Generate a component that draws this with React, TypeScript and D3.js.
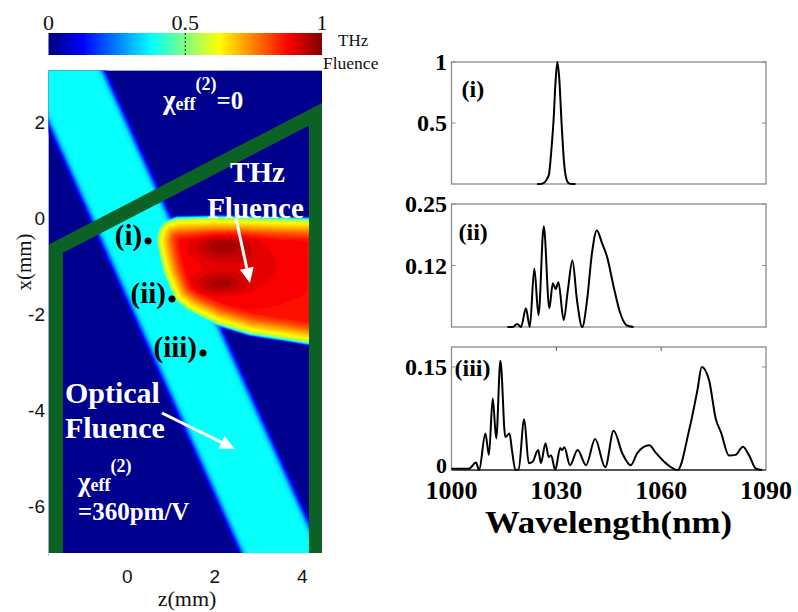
import React, { useMemo } from 'react';
import * as d3 from 'd3';

// ---------- map panel: axes ----------
const zDomain = [-1.8, 4.45];
const xDomain = [-6.97, 3.07];
const zTicks = [0, 2, 4];
const xTicks = [2, 0, -2, -4, -6];
const colorbarTicks = [0, 0.5, 1];
const colorbarTickLabels = ['0', '0.5', '1'];

// optical pump beam: z of its two edges at the two x extremes (mm)
const opticalEdgeX = [3.07, -6.97];
const opticalEdgeLeftZ = [-2.377, 2.573];
const opticalEdgeRightZ = [-0.51, 4.479];
const opticalLevel = 0.38;

// THz fluence region outline (mm)
const thzOutlineZ = [0.701, 0.747, 0.862, 1.136, 2.05, 4.106, 4.6, 4.6, 4.106, 3.558, 2.804, 2.05, 1.433, 1.136, 1.021, 0.862, 0.747];
const thzOutlineX = [-0.458, -0.25, -0.104, -0.021, 0, -0.042, -0.042, -2.601, -2.58, -2.497, -2.393, -2.185, -1.914, -1.706, -1.498, -1.144, -0.728];
// THz fluence versus depth inside the outline (px)
const thzRimDepth = [-4, 0, 4, 9, 14, 21];
const thzRimLevel = [0, 0.55, 0.64, 0.72, 0.8, 0.875];
// THz hot spots
const spotZ = [2.17, 2.12, 2.65];
const spotX = [-0.58, -1.37, -1.0];
const spotRz = [0.6, 0.55, 1.3];
const spotRx = [0.26, 0.2, 0.65];
const spotGain = [0.085, 0.075, 0.035];

// crystal boundary (mm)
const crystalZ = [-1.63, -1.63, 4.312, 4.312];
const crystalX = [-7.6, -0.637, 2.166, -7.6];

// observation points
const probeLabels = ['(i)', '(ii)', '(iii)'];
const probeZ = [0.476, 1.021, 1.73];
const probeX = [-0.479, -1.685, -2.809];

// ---------- spectra ----------
const wavelengthTicks = [1000, 1030, 1060, 1090];
const specIWl = [1024.5, 1025.5, 1026.5, 1027.3, 1027.9, 1028.5, 1029.2, 1029.8, 1030.3, 1030.8, 1031.5, 1032.2, 1032.8, 1033.5, 1034.5, 1035.5];
const specIVal = [0, 0, 0.01, 0.04, 0.08, 0.25, 0.52, 0.85, 1.0, 0.88, 0.5, 0.18, 0.05, 0.008, 0, 0];
const specIIWl = [1016, 1017.5, 1018.8, 1019.9, 1021.3, 1022.4, 1023.7, 1024.9, 1026.4, 1028.0, 1029.0, 1029.8, 1030.6, 1032.1, 1033.3, 1034.6, 1035.9, 1037.4, 1038.8, 1040.2, 1041.6, 1043.1, 1044.5, 1046.4, 1048.3, 1050.2, 1052.1];
const specIIVal = [0, 0, 0.006, 0, 0.038, 0, 0.119, 0.024, 0.205, 0.038, 0.089, 0.077, 0.091, 0.014, 0.075, 0.135, 0.055, 0, 0.055, 0.15, 0.196, 0.17, 0.143, 0.082, 0.028, 0.003, 0];
const specIIIWl = [1000, 1005, 1007.0, 1007.9, 1009.7, 1010.7, 1011.8, 1012.8, 1014.0, 1015.4, 1016.6, 1017.3, 1018.3, 1019.2, 1020.8, 1022.1, 1023.2, 1024.8, 1025.6, 1026.9, 1027.8, 1028.5, 1029.7, 1031.1, 1031.6, 1032.3, 1033.9, 1036.1, 1038.5, 1041.1, 1044.0, 1046.4, 1048.9, 1051.3, 1053.2, 1056.6, 1058.5, 1061.3, 1064.7, 1068.0, 1070.4, 1071.6, 1073.7, 1075.6, 1077.1, 1079.4, 1081.3, 1083.4, 1085.1, 1087.1, 1088.9];
const specIIIVal = [0.002, 0.002, 0.011, 0, 0.053, 0.022, 0.104, 0.046, 0.159, 0.048, 0.053, 0.029, 0, 0.001, 0.074, 0.01, 0.012, 0.029, 0.01, 0.039, 0.019, 0.021, 0, 0.032, 0.029, 0.033, 0.007, 0.029, 0.007, 0.045, 0.004, 0.057, 0.024, 0.007, 0.025, 0.036, 0.025, 0.01, 0, 0.058, 0.117, 0.15, 0.131, 0.075, 0.055, 0.021, 0.022, 0.034, 0.022, 0.002, 0];

const panelLabels = ['(i)', '(ii)', '(iii)'];
const panelYMax = [1, 0.25, 0.179];
const panelTicks = [[0.5, 1], [0.125, 0.25], [0, 0.15]];
const panelTickLabels = [['0.5', '1'], ['0.12', '0.25'], ['0', '0.15']];

// ---------- layout ----------
const W = 798;
const H = 612;
const mapL = 48.5, mapR = 322, mapT = 70.5, mapB = 553;
const cbT = 33, cbB = 55;
const specL = 451.5, specR = 766;
const panelTop = [62, 204, 347];
const panelBottom = [184, 327, 470];

const SERIF = '"Liberation Serif", "Times New Roman", serif';
const SANS = '"Liberation Sans", Arial, sans-serif';
const GREEN = '#0c6224';

function jet(v: number): string {
  const c = (t: number) => Math.round(255 * Math.max(0, Math.min(1, t)));
  return `rgb(${c(1.5 - Math.abs(4 * v - 3))},${c(1.5 - Math.abs(4 * v - 2))},${c(1.5 - Math.abs(4 * v - 1))})`;
}

function smoothstep(t: number): number {
  const u = Math.max(0, Math.min(1, t));
  return u * u * (3 - 2 * u);
}

function segDist(px: number, py: number, ax: number, ay: number, bx: number, by: number): number {
  const dx = bx - ax, dy = by - ay;
  const L2 = dx * dx + dy * dy;
  let t = L2 > 0 ? ((px - ax) * dx + (py - ay) * dy) / L2 : 0;
  t = Math.max(0, Math.min(1, t));
  const qx = ax + t * dx - px, qy = ay + t * dy - py;
  return Math.sqrt(qx * qx + qy * qy);
}

function Arrow({ x1, y1, x2, y2 }: { x1: number; y1: number; x2: number; y2: number }) {
  const ang = Math.atan2(y2 - y1, x2 - x1);
  const hl = 15, hw = 7;
  const bx = x2 - hl * Math.cos(ang), by = y2 - hl * Math.sin(ang);
  const nx = -Math.sin(ang), ny = Math.cos(ang);
  return (
    <g>
      <line x1={x1} y1={y1} x2={bx} y2={by} stroke="#fff" strokeWidth={3} />
      <polygon points={`${x2},${y2} ${bx + nx * hw},${by + ny * hw} ${bx - nx * hw},${by - ny * hw}`} fill="#fff" />
    </g>
  );
}

export default function App() {
  const zs = d3.scaleLinear().domain(zDomain).range([mapL, mapR]);
  const xs = d3.scaleLinear().domain(xDomain).range([mapB, mapT]);
  const cb = d3.scaleLinear().domain([0, 1]).range([mapL, mapR]);

  const fieldPaths = useMemo(() => {
    const cell = 1.5;
    const nx = Math.ceil((mapR - mapL) / cell);
    const ny = Math.ceil((mapB - mapT) / cell);
    const rim = d3.scaleLinear().domain(thzRimDepth).range(thzRimLevel).clamp(true);
    const poly: [number, number][] = thzOutlineZ.map((z, i) => [zs(z), xs(thzOutlineX[i])]);
    const values: number[] = new Array(nx * ny);
    for (let j = 0; j < ny; j++) {
      const py = mapT + (j + 0.5) * cell;
      const x = xs.invert(py);
      const t = (x - opticalEdgeX[0]) / (opticalEdgeX[1] - opticalEdgeX[0]);
      const Lz = opticalEdgeLeftZ[0] + t * (opticalEdgeLeftZ[1] - opticalEdgeLeftZ[0]);
      const Rz = opticalEdgeRightZ[0] + t * (opticalEdgeRightZ[1] - opticalEdgeRightZ[0]);
      for (let i = 0; i < nx; i++) {
        const px = mapL + (i + 0.5) * cell;
        const z = zs.invert(px);
        const d = Math.min(z - Lz, Rz - z);
        const O = opticalLevel * smoothstep((d + 0.12) / 0.3);
        let md = Infinity;
        for (let k = 0; k < poly.length; k++) {
          const a = poly[k], b = poly[(k + 1) % poly.length];
          md = Math.min(md, segDist(px, py, a[0], a[1], b[0], b[1]));
        }
        const inside = d3.polygonContains(poly, [px, py]);
        const sd = inside ? md : -md;
        let T = rim(sd);
        if (sd > 0) {
          let hot = 0;
          for (let s = 0; s < spotZ.length; s++) {
            const u = (z - spotZ[s]) / spotRz[s];
            const v = (x - spotX[s]) / spotRx[s];
            hot += spotGain[s] * Math.exp(-(u * u + v * v));
          }
          T += hot * Math.min(1, sd / 14);
        }
        values[j * nx + i] = Math.max(O, Math.min(1, T));
      }
    }
    const thresholds = d3.range(1, 51).map((k) => k / 50);
    const contours = d3.contours().size([nx, ny]).thresholds(thresholds)(values);
    const path = d3.geoPath(d3.geoIdentity().scale(cell).translate([mapL, mapT]) as any);
    return contours.map((c) => ({ d: path(c as any) || '', fill: jet(c.value) }));
  }, []);

  const crystalLine = d3
    .line<number>()
    .x((_, i) => zs(crystalZ[i]))
    .y((_, i) => xs(crystalX[i]))
    .curve(d3.curveLinear)(crystalZ);

  const wx = d3.scaleLinear().domain([1000, 1090]).range([specL, specR]);
  const spectra = [
    { wl: specIWl, val: specIVal },
    { wl: specIIWl, val: specIIVal },
    { wl: specIIIWl, val: specIIIVal },
  ];

  const cbStops = d3.range(0, 65).map((k) => k / 64);

  return (
    <svg width={W} height={H} style={{ position: 'absolute', left: 0, top: 0, background: '#fff' }}>
      <defs>
        <clipPath id="mapClip">
          <rect x={mapL} y={mapT} width={mapR - mapL} height={mapB - mapT} />
        </clipPath>
        <linearGradient id="jetGrad" x1="0" x2="1" y1="0" y2="0">
          {cbStops.map((v) => (
            <stop key={v} offset={v} stopColor={jet(v)} />
          ))}
        </linearGradient>
      </defs>
      <rect x={0} y={0} width={W} height={H} fill="#fff" />

      {/* colour bar */}
      <rect x={cb(0)} y={cbT} width={cb(1) - cb(0)} height={cbB - cbT} fill="url(#jetGrad)" />
      <line x1={cb(0.5)} x2={cb(0.5)} y1={cbT} y2={cbB} stroke="#222" strokeWidth={1} strokeDasharray="2 2" />
      {colorbarTicks.map((v, i) => (
        <text key={v} x={cb(v)} y={30} textAnchor="middle" fontFamily={SERIF} fontSize={22} fill="#111">
          {colorbarTickLabels[i]}
        </text>
      ))}
      <text x={338} y={46} fontFamily={SERIF} fontSize={17} fill="#111">THz</text>
      <text x={323} y={69} fontFamily={SERIF} fontSize={17.5} fill="#111">Fluence</text>

      {/* fluence map */}
      <g clipPath="url(#mapClip)">
        <rect x={mapL} y={mapT} width={mapR - mapL} height={mapB - mapT} fill="#00008f" />
        {fieldPaths.map((p, i) => (
          <path key={i} d={p.d} fill={p.fill} />
        ))}
        <path d={crystalLine || ''} fill="none" stroke={GREEN} strokeWidth={14} strokeLinejoin="miter" />
      </g>
      <line x1={mapL} x2={mapL} y1={mapT} y2={mapB + 3} stroke="#8a94b8" strokeWidth={1} strokeDasharray="1 1" />
      <line x1={mapL} x2={mapR} y1={mapT} y2={mapT} stroke="#8a94b8" strokeWidth={1} strokeDasharray="1 1" />

      {/* map axes */}
      {xTicks.map((v) => (
        <text key={v} x={45} y={xs(v)} dy="0.35em" textAnchor="end" fontFamily={SANS} fontSize={19} fill="#111">
          {v < 0 ? `-${Math.abs(v)}` : v}
        </text>
      ))}
      {zTicks.map((v) => (
        <text key={v} x={zs(v)} y={583} textAnchor="middle" fontFamily={SANS} fontSize={19} fill="#111">
          {v}
        </text>
      ))}
      <text x={0} y={0} transform="translate(31,262) rotate(-90)" textAnchor="middle" fontFamily={SERIF} fontSize={21} fill="#111">
        x(mm)
      </text>
      <text x={187} y={606} textAnchor="middle" fontFamily={SERIF} fontSize={22} fill="#111">
        z(mm)
      </text>

      {/* map annotations */}
      <g fontFamily={SERIF} fontWeight="bold" fill="#fff">
        <text x={zs(0.816)} y={xs(2.268)} fontSize={27}>
          χ
          <tspan fontSize={18} dy={1}>eff</tspan>
          <tspan fontSize={18} dy={-20}>(2)</tspan>
          <tspan fontSize={25} dy={19}>=0</tspan>
        </text>
        <text x={zs(2.975)} y={xs(0.749)} fontSize={29} textAnchor="middle">THz</text>
        <text x={zs(2.93)} y={xs(0)} fontSize={29} textAnchor="middle">Fluence</text>
        <text x={zs(-1.424)} y={xs(-3.849)} fontSize={30}>Optical</text>
        <text x={zs(-1.424)} y={xs(-4.578)} fontSize={30}>Fluence</text>
        <text x={zs(-1.127)} y={xs(-5.68)} fontSize={27}>
          χ
          <tspan fontSize={18} dy={0}>eff</tspan>
          <tspan fontSize={18} dy={-19}>(2)</tspan>
        </text>
        <text x={zs(-1.127)} y={xs(-6.29)} fontSize={25}>=360pm/V</text>
      </g>
      <Arrow x1={zs(2.484)} y1={xs(0)} x2={zs(2.804)} y2={xs(-1.352)} />
      <Arrow x1={zs(0.793)} y1={xs(-4.057)} x2={zs(2.461)} y2={xs(-4.806)} />
      {probeLabels.map((lab, i) => (
        <g key={lab}>
          <circle cx={zs(probeZ[i])} cy={xs(probeX[i])} r={3.5} fill="#000" />
          <text x={zs(probeZ[i]) - 6} y={xs(probeX[i]) + 4} textAnchor="end" fontFamily={SERIF} fontWeight="bold" fontSize={29} fill="#000">
            {lab}
          </text>
        </g>
      ))}

      {/* spectra */}
      {spectra.map((s, p) => {
        const yS = d3.scaleLinear().domain([0, panelYMax[p]]).range([panelBottom[p], panelTop[p]]);
        const pts = s.wl.map((w, i) => [w, s.val[i]] as [number, number]);
        const line = d3
          .line<[number, number]>()
          .x((d) => wx(d[0]))
          .y((d) => yS(d[1]))
          .curve(d3.curveMonotoneX)(pts);
        return (
          <g key={p}>
            <rect x={specL} y={panelTop[p]} width={specR - specL} height={panelBottom[p] - panelTop[p]} fill="none" stroke="#8a8a8a" strokeWidth={1.3} />
            {p === 2 && <line x1={specL} x2={specR} y1={panelBottom[p]} y2={panelBottom[p]} stroke="#555" strokeWidth={2} />}
            {panelTicks[p].map((v) => (
              <g key={v}>
                <line x1={specL} x2={specL + 4} y1={yS(v)} y2={yS(v)} stroke="#8a8a8a" />
                <line x1={specR - 4} x2={specR} y1={yS(v)} y2={yS(v)} stroke="#8a8a8a" />
              </g>
            ))}
            {p === 2 &&
              wavelengthTicks.slice(1, 3).map((v) => (
                <line key={v} x1={wx(v)} x2={wx(v)} y1={panelTop[p]} y2={panelTop[p] + 4} stroke="#555" />
              ))}
            <path d={line || ''} fill="none" stroke="#000" strokeWidth={2} strokeLinejoin="round" />
            <text x={specL + (p === 2 ? 3 : p === 1 ? 7 : 10)} y={p === 0 ? 97 : p === 1 ? 240 : 376} fontFamily={SERIF} fontWeight="bold" fontSize={24} fill="#000">
              {panelLabels[p]}
            </text>
            {panelTicks[p].map((v, i) => (
              <text key={v} x={447} y={yS(v) - (p === 2 && v === 0 ? 5 : 0)} dy="0.35em" textAnchor="end" fontFamily={SERIF} fontWeight="bold" fontSize={p === 2 && v === 0 ? 22 : 24} fill="#000">
                {panelTickLabels[p][i]}
              </text>
            ))}
          </g>
        );
      })}
      {wavelengthTicks.map((v) => (
        <text key={v} x={wx(v)} y={499} textAnchor="middle" fontFamily={SERIF} fontWeight="bold" fontSize={26} fill="#000">
          {v}
        </text>
      ))}
      <text x={608.5} y={533} textAnchor="middle" fontFamily={SERIF} fontWeight="bold" fontSize={31} textLength={247} lengthAdjust="spacingAndGlyphs" fill="#000">
        Wavelength(nm)
      </text>
    </svg>
  );
}
